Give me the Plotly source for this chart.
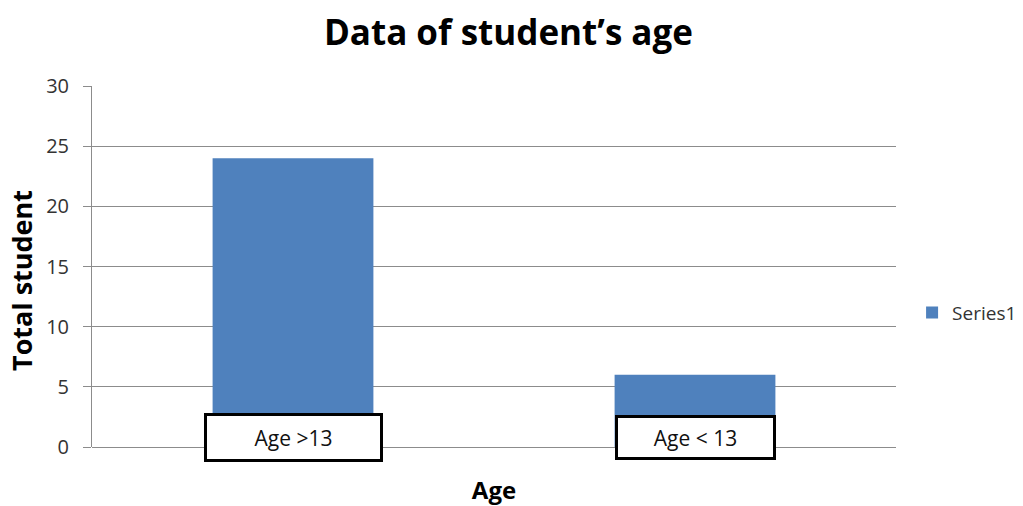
import plotly.graph_objects as go

categories = ["Age >13", "Age < 13"]
values = [24, 6]
series_name = "Series1"
y_ticks = [0, 5, 10, 15, 20, 25, 30]

FONT = "Open Sans"

fig = go.Figure()
fig.add_trace(go.Bar(x=categories, y=values, name=series_name,
                     marker=dict(color="#4F81BD", line=dict(width=0)),
                     showlegend=True))

box_widths = [165, 147]
box_heights = [35, 31]
for c, w, h in zip(categories, box_widths, box_heights):
    fig.add_annotation(x=c, y=0.75, xref="x", yref="y", text=c, showarrow=False,
                       font=dict(family=FONT, size=21, color="#111"),
                       bgcolor="white", bordercolor="black", borderwidth=3, borderpad=4,
                       width=w, height=h, yanchor="middle", xanchor="center", align="center")

# y-axis title (placed as text, slightly below the plot centre as in the reference)
fig.add_annotation(x=-0.087, y=0.46, xref="paper", yref="paper", text="<b>Total student</b>",
                   textangle=-90, showarrow=False, xanchor="center", yanchor="middle",
                   font=dict(family=FONT, size=27, color="black"))

fig.update_layout(
    width=1023, height=506,
    margin=dict(l=92, r=127, t=86, b=59, autoexpand=False),
    paper_bgcolor="white", plot_bgcolor="white",
    bargap=0.6,
    title=dict(text="<b>Data of student’s age</b>", x=0.497, xanchor="center", y=0.935, yanchor="middle",
               font=dict(family=FONT, size=35, color="black")),
    font=dict(family=FONT, color="#333"),
    legend=dict(x=1.02, y=0.372, xanchor="left", yanchor="middle",
                font=dict(family=FONT, size=19, color="#333"), bgcolor="rgba(0,0,0,0)"),
    xaxis=dict(showticklabels=False, showgrid=False, zeroline=False, showline=False,
               title=dict(text="<b>Age</b>", font=dict(family=FONT, size=24, color="black"), standoff=37)),
    yaxis=dict(range=[0, 30], tickvals=y_ticks, showgrid=True, gridcolor="#8c8c8c", gridwidth=1,
               zeroline=True, zerolinecolor="#8c8c8c", zerolinewidth=1,
               showline=True, linecolor="#8c8c8c", linewidth=1,
               ticks="outside", ticklen=8, tickcolor="#8c8c8c", ticklabelstandoff=10,
               tickfont=dict(family=FONT, size=20, color="#333")),
)

fig.write_html("out.html")
